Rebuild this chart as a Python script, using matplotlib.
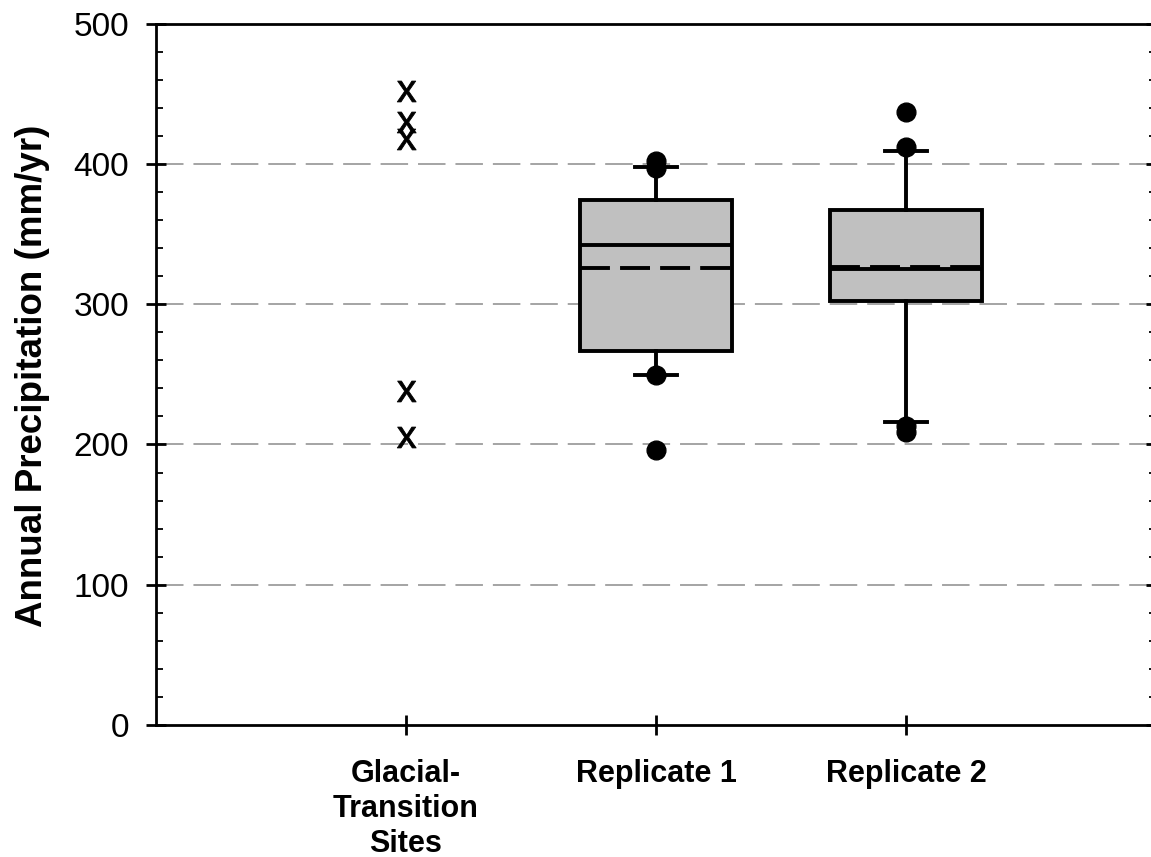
import numpy as np
import matplotlib
matplotlib.use("Agg")
import matplotlib.pyplot as plt
from matplotlib.textpath import TextPath
from matplotlib.font_manager import FontProperties
from matplotlib.path import Path

# ---- data ----
categories = ["Glacial-\nTransition\nSites", "Replicate 1", "Replicate 2"]
glacial_sites = [452, 430, 418, 238, 205]

rep_labels = ["Replicate 1", "Replicate 2"]
rep_q1 = [267, 302]
rep_med = [342, 325]
rep_q3 = [374, 367]
rep_mean = [326, 326.3]
rep_whislo = [249.5, 216]
rep_whishi = [398, 409]
rep_fliers = [[402, 397, 249.5, 196], [437, 412, 213, 209]]

yticks = [0, 100, 200, 300, 400, 500]
grid_levels = [100, 200, 300, 400]

# ---- style ----
FONT = "Liberation Sans"
plt.rcParams["font.family"] = [FONT, "DejaVu Sans"]

fig = plt.figure(figsize=(11.51, 8.57), dpi=100)
W, H = 1151, 857
ax = fig.add_axes([156 / W, 132 / H, 1000 / W, 701.3 / H])
ax.set_xlim(0, 4)
ax.set_ylim(0, 500)

# grid lines (behind the boxes)
for g in grid_levels:
    ax.axhline(g, color="#8c8c8c", lw=1.1, dashes=(18, 6.5), zorder=0.5)

# boxplots for the replicates
stats = []
for i in range(len(rep_labels)):
    stats.append(dict(label=rep_labels[i], q1=rep_q1[i], med=rep_med[i], q3=rep_q3[i],
                      mean=rep_mean[i], whislo=rep_whislo[i], whishi=rep_whishi[i],
                      fliers=rep_fliers[i]))
lw = 2.8
ax.bxp(stats, positions=[2, 3], widths=0.605, capwidths=0.168, showmeans=True, meanline=True,
       patch_artist=True, manage_ticks=False,
       boxprops=dict(facecolor="#c0c0c0", edgecolor="black", linewidth=lw),
       medianprops=dict(color="black", linewidth=lw),
       meanprops=dict(color="black", linewidth=lw, linestyle=(0, (7.7, 2.6))),
       whiskerprops=dict(color="black", linewidth=lw),
       capprops=dict(color="black", linewidth=lw),
       flierprops=dict(marker="o", markerfacecolor="black", markeredgecolor="black",
                       markersize=13.5, zorder=3))

# "x" glyph markers for the glacial-transition sites
tp = TextPath((0, 0), "x", prop=FontProperties(family=FONT))
v = tp.vertices.copy()
v -= (v.min(axis=0) + v.max(axis=0)) / 2
xmark = Path(v, tp.codes)
ax.plot([1] * len(glacial_sites), glacial_sites, linestyle="none", marker=xmark,
        markersize=15, color="black", markeredgecolor="black", markeredgewidth=0.6,
        zorder=3)

# axes / ticks
for s in ax.spines.values():
    s.set_linewidth(2.0)
ax.set_xticks([1, 2, 3])
ax.set_xticklabels(categories, fontsize=22, fontweight="bold")
for lbl in ax.get_xticklabels():
    lbl.set_linespacing(1.22)
ax.tick_params(axis="x", direction="inout", length=14.5, width=2, pad=17)
ax.set_yticks(yticks)
ax.set_yticklabels([str(t) for t in yticks], fontsize=24)
ax.set_yticks(np.arange(0, 501, 20), minor=True)
ax.tick_params(axis="y", which="major", direction="inout", length=14.5, width=2, pad=12,
               right=True)
ax.tick_params(axis="y", which="minor", direction="in", length=5, width=1.3, right=True)

fig.text(33 / W, 1 - 376 / H, "Annual Precipitation (mm/yr)", rotation=90,
         ha="center", va="center", fontsize=26.5, fontweight="bold")

fig.savefig("out.png", dpi=100)
